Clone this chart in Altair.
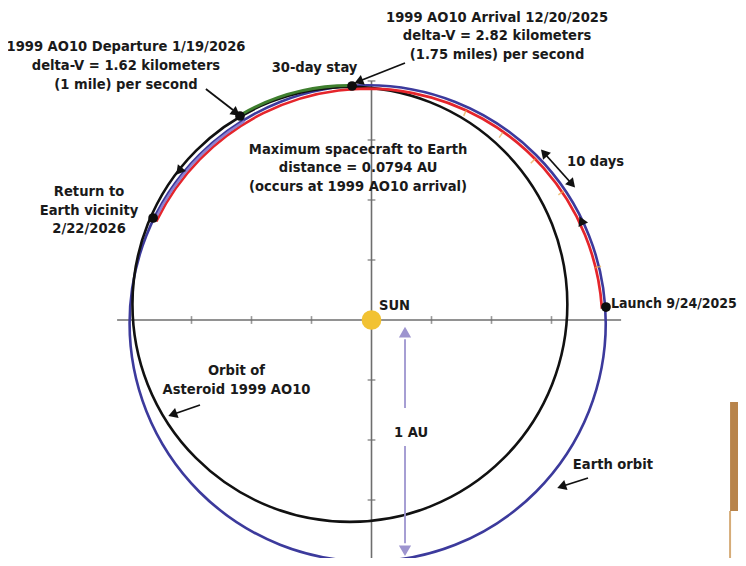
import altair as alt
import pandas as pd

# ---------------- data (AU, Sun at origin, y up) ----------------
# full orbits: centre and radius
orbit_name = ["Earth orbit", "Asteroid 1999 AO10"]
orbit_cx = [-0.016, -0.090]
orbit_cy = [-0.014, 0.065]
orbit_r = [0.992, 0.906]

# mission legs drawn as arcs (angles in degrees, counter-clockwise from +x)
leg_name = ["Earth path", "30-day stay", "Return leg"]
leg_cx = [-0.016, -0.090, -0.016]
leg_cy = [-0.014, 0.065, -0.014]
leg_r = [0.978, 0.912, 0.986]
leg_phi1 = [3.9, 89.5, 121.6]
leg_phi2 = [153.9, 120.3, 153.9]

# mission events
event_name = ["Launch", "Arrival", "Departure", "Return"]
event_x = [0.977, -0.081, -0.548, -0.910]
event_y = [0.054, 0.975, 0.850, 0.425]

# 10-day markers along the trajectory (position, marker angle)
mark_x = [0.3896, 0.5396, 0.6729, 0.7896, 0.9437]
mark_y = [0.8625, 0.7708, 0.6625, 0.5292, 0.2208]
mark_ang = [115, 125, 135, 146, 166]

# axis ticks every 0.25 AU
tick_vals = [-0.75, -0.5, -0.25, 0.25, 0.5, 0.75]
axis_h = [-1.06, 1.04]
axis_v = [-1.0, 0.996]

# labels
label_text = [
    "1999 AO10 Departure 1/19/2026", "delta-V = 1.62 kilometers", "(1 mile) per second",
    "1999 AO10 Arrival 12/20/2025", "delta-V = 2.82 kilometers", "(1.75 miles) per second",
    "30-day stay",
    "Maximum spacecraft to Earth", "distance = 0.0794 AU", "(occurs at 1999 AO10 arrival)",
    "Return to", "Earth vicinity", "2/22/2026",
    "Orbit of", "Asteroid 1999 AO10",
    "1 AU", "Earth orbit",
]
label_x = [-1.023, -1.023, -1.023,
           0.523, 0.523, 0.523,
           -0.2375,
           -0.056, -0.056, -0.056,
           -1.177, -1.177, -1.177,
           -0.5625, -0.5625,
           0.1646, 1.006]
label_y = [1.1375, 1.0583, 0.9792,
           1.2604, 1.1813, 1.1021,
           1.05,
           0.7083, 0.6313, 0.5542,
           0.5333, 0.4542, 0.3771,
           -0.2125, -0.2917,
           -0.4708, -0.6042]
left_text = ["SUN", "10 days"]
left_x = [0.031, 0.8146]
left_y = [0.058, 0.6583]
launch_text = ["Launch 9/24/2025"]
launch_x = [0.998]
launch_y = [0.0667]

# pointer lines
ptr_x = [-0.690, 0.1396, 0.7229, -0.7146, 0.9021, 0.1396, 0.1396]
ptr_y = [0.9625, 1.0708, 0.6917, -0.3542, -0.6583, -0.08, -0.525]
ptr_x2 = [-0.577, -0.0396, 0.8313, -0.8229, 0.7979, 0.1396, 0.1396]
ptr_y2 = [0.875, 1.0, 0.5708, -0.3917, -0.6917, -0.3667, -0.93]
ptr_col = ["#111111"] * 5 + ["#9d94cf"] * 2

# arrowheads (angle clockwise from up)
head_x = [-0.5688, -0.0479, 0.8313, 0.7229, -0.8229, 0.7979, 0.8771, -0.7979]
head_y = [0.8667, 0.9958, 0.5708, 0.6917, -0.3917, -0.6917, 0.4083, 0.625]
head_ang = [127, 248, 138, 318, 250, 252, 335, 219]
au_head_y = [-0.058, -0.954]
au_head_ang = [0, 180]

# decorative page edge at the right
edge_x = [1.494]
edge_x2 = [1.54]
edge_y = [-0.3417]
edge_y2 = [-0.7958]

# ---------------- chart ----------------
W, H = 730, 550
PX_PER_AU = 240
X0 = -1.5146
X1 = X0 + W / PX_PER_AU
Y1 = 1.3
Y0 = Y1 - H / PX_PER_AU
FONT = "DejaVu Sans Condensed"
FS = 14.6

xs = alt.Scale(domain=[X0, X1], nice=False, zero=False)
ys = alt.Scale(domain=[Y0, Y1], nice=False, zero=False)
rs = alt.Scale(type="linear", domain=[0, 1], range=[0, PX_PER_AU], zero=True)
ts = alt.Scale(domain=[90, -270], range=[0, 6.283185307179586])

X = lambda f: alt.X(f, type="quantitative", scale=xs, axis=None)
Y = lambda f: alt.Y(f, type="quantitative", scale=ys, axis=None)

orbits = pd.DataFrame({"name": orbit_name, "cx": orbit_cx, "cy": orbit_cy, "r": orbit_r,
                       "p1": [0.0, 0.0], "p2": [362.0, 362.0]})
legs = pd.DataFrame({"name": leg_name, "cx": leg_cx, "cy": leg_cy, "r": leg_r,
                     "p1": leg_phi1, "p2": leg_phi2})
legs["r2"] = legs["r"] - 0.0004


def orbit_layer(df, color, width):
    return alt.Chart(df).mark_arc(filled=False, color=color, strokeWidth=width).encode(
        x=X("cx"), y=Y("cy"),
        radius=alt.Radius("r:Q", scale=rs),
        theta=alt.Theta("p1:Q", scale=ts, stack=False),
        theta2=alt.Theta2("p2:Q"),
    )


def leg_layer(df, color, width):
    return alt.Chart(df).mark_arc(filled=False, color=color, strokeWidth=width,
                                  strokeCap="round").encode(
        x=X("cx"), y=Y("cy"),
        radius=alt.Radius("r:Q", scale=rs),
        radius2=alt.Radius2("r2:Q"),
        theta=alt.Theta("p1:Q", scale=ts, stack=False),
        theta2=alt.Theta2("p2:Q"),
    )


axis_df = pd.DataFrame({"x": [axis_h[0], 0.0], "y": [0.0, axis_v[0]],
                        "x2": [axis_h[1], 0.0], "y2": [0.0, axis_v[1]]})
axes = alt.Chart(axis_df).mark_rule(color="#6e6e6e", strokeWidth=1.6).encode(
    x=X("x"), y=Y("y"), x2="x2", y2="y2")

hticks = alt.Chart(pd.DataFrame({"x": tick_vals, "y": [0.0] * len(tick_vals)})).mark_point(
    shape="stroke", color="#6e6e6e", strokeWidth=1.6, size=60, angle=90).encode(x=X("x"), y=Y("y"))
vticks = alt.Chart(pd.DataFrame({"x": [0.0] * (len(tick_vals) + 2),
                                 "y": tick_vals + axis_v})).mark_point(
    shape="stroke", color="#6e6e6e", strokeWidth=1.6, size=60).encode(x=X("x"), y=Y("y"))

earth = orbit_layer(orbits.iloc[[0]], "#3c3a9c", 2.6)
aster = orbit_layer(orbits.iloc[[1]], "#111111", 2.6)
red = leg_layer(legs.iloc[[0]], "#e5252b", 2.6)
green = leg_layer(legs.iloc[[1]], "#3f7f2e", 2.8)
purple = leg_layer(legs.iloc[[2]], "#8d80cf", 2.2)

markers = alt.Chart(pd.DataFrame({"x": mark_x, "y": mark_y, "a": mark_ang})).mark_point(
    shape="stroke", color="#e9a94a", strokeWidth=1.5, size=40).encode(
    x=X("x"), y=Y("y"), angle=alt.Angle("a:Q", scale=None))

ptr_df = pd.DataFrame({"x": ptr_x, "y": ptr_y, "x2": ptr_x2, "y2": ptr_y2, "c": ptr_col})
pointers = alt.Chart(ptr_df).mark_rule(strokeWidth=1.8).encode(
    x=X("x"), y=Y("y"), x2="x2", y2="y2", color=alt.Color("c:N", scale=None))

heads_df = pd.DataFrame({"x": head_x, "y": head_y, "a": head_ang})
heads = alt.Chart(heads_df).mark_point(shape="triangle", filled=True, color="#111111",
                                       size=110, opacity=1).encode(
    x=X("x"), y=Y("y"), angle=alt.Angle("a:Q", scale=None))
au_heads = alt.Chart(pd.DataFrame({"x": [0.1396, 0.1396], "y": au_head_y, "a": au_head_ang})).mark_point(
    shape="triangle", filled=True, color="#9d94cf", size=150, opacity=1).encode(
    x=X("x"), y=Y("y"), angle=alt.Angle("a:Q", scale=None))

sun = alt.Chart(pd.DataFrame({"x": [0.0], "y": [0.0]})).mark_circle(
    color="#f2c232", size=390, opacity=1).encode(x=X("x"), y=Y("y"))

events = alt.Chart(pd.DataFrame({"name": event_name, "x": event_x, "y": event_y})).mark_circle(
    color="#0d0d0d", size=95, opacity=1).encode(x=X("x"), y=Y("y"))

labels = alt.Chart(pd.DataFrame({"t": label_text, "x": label_x, "y": label_y})).mark_text(
    font=FONT, fontSize=FS, fontWeight="bold", color="#1a1a1a", align="center",
    baseline="middle").encode(x=X("x"), y=Y("y"), text="t:N")
left_labels = alt.Chart(pd.DataFrame({"t": left_text, "x": left_x, "y": left_y})).mark_text(
    font=FONT, fontSize=FS, fontWeight="bold", color="#1a1a1a", align="left",
    baseline="middle").encode(x=X("x"), y=Y("y"), text="t:N")
launch_label = alt.Chart(pd.DataFrame({"t": launch_text, "x": launch_x, "y": launch_y})).mark_text(
    font=FONT, fontSize=14, fontWeight="bold", color="#1a1a1a", align="left",
    baseline="middle").encode(x=X("x"), y=Y("y"), text="t:N")

edge = alt.Chart(pd.DataFrame({"x": edge_x, "x2": edge_x2, "y": edge_y, "y2": edge_y2})).mark_rect(
    color="#b8844b").encode(x=X("x"), x2="x2", y=Y("y"), y2="y2")
edge_line = alt.Chart(pd.DataFrame({"x": edge_x, "y": edge_y2, "y2": [Y0]})).mark_rule(
    color="#d6ac78", strokeWidth=2).encode(x=X("x"), y=Y("y"), y2="y2")

chart = alt.layer(
    edge, edge_line, axes, hticks, vticks, earth, aster, red, purple, green, markers,
    pointers, heads, au_heads, sun, events, labels, left_labels, launch_label,
).properties(
    width=W, height=H, padding=0,
    autosize=alt.AutoSizeParams(type="none"),
).configure_view(stroke=None)

chart.save("out.html", embed_options={"renderer": "svg", "actions": False})
